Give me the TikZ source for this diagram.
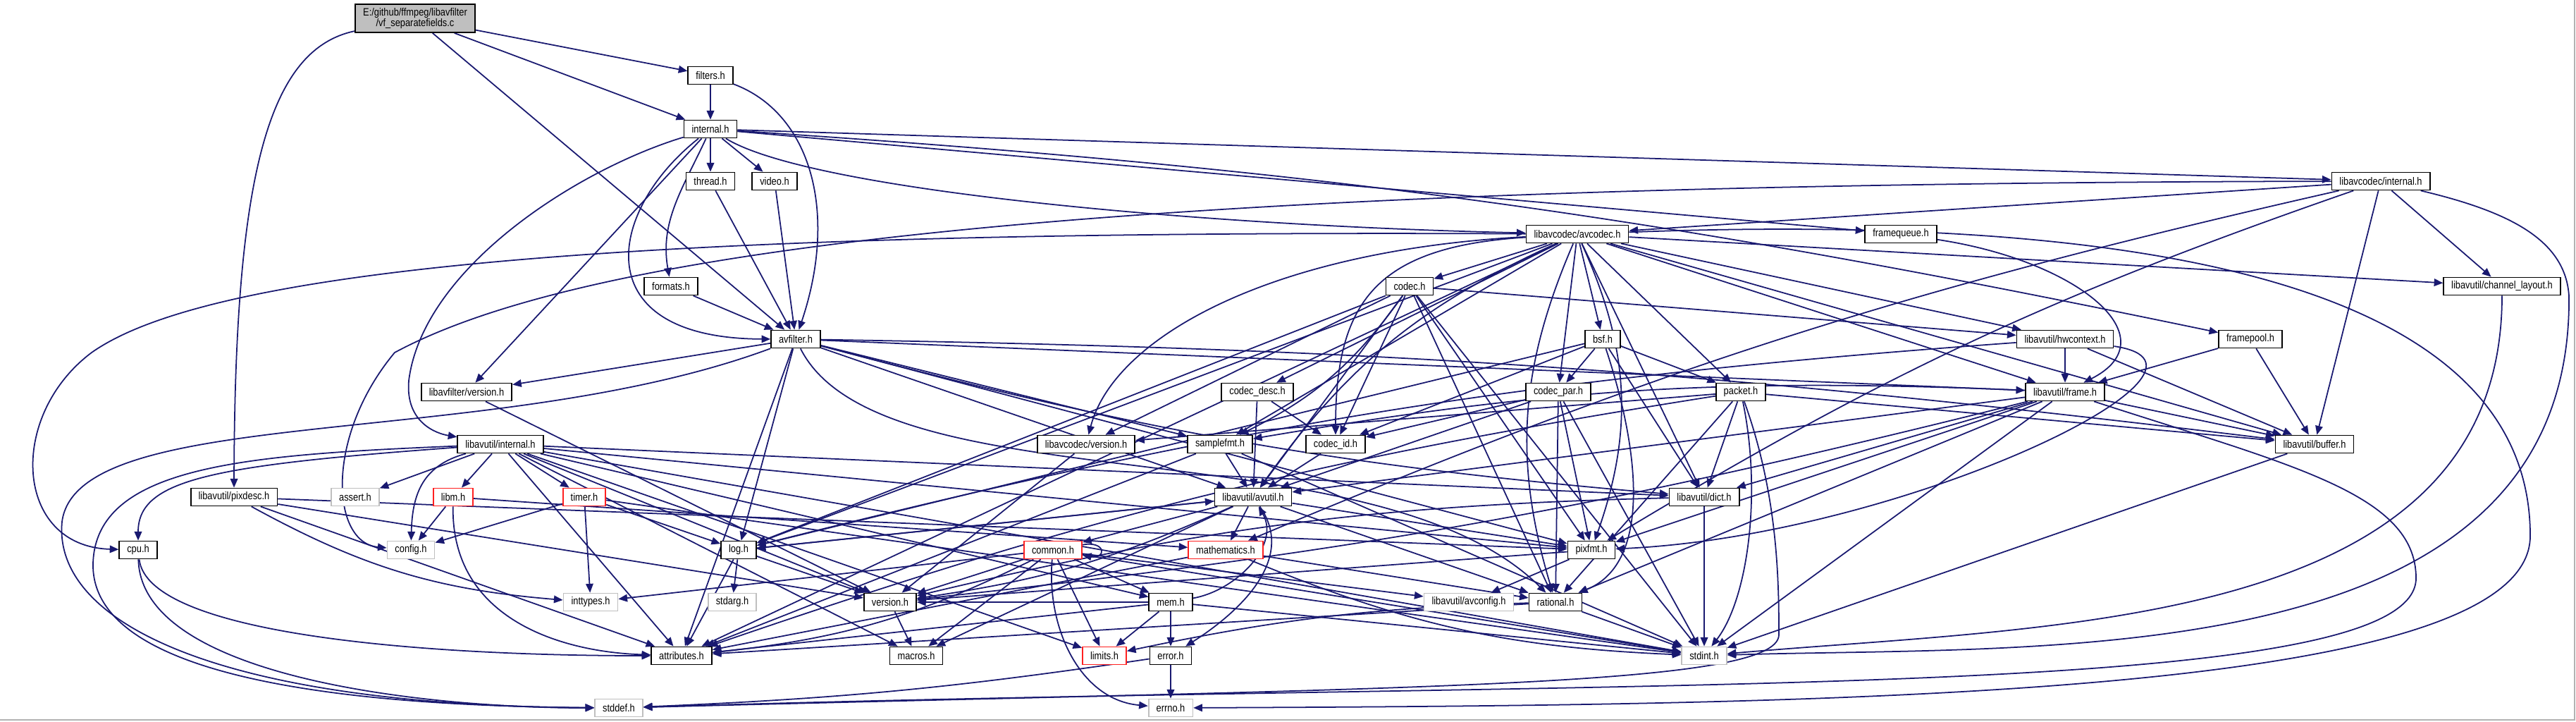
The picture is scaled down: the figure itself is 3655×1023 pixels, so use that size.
\documentclass[tikz,border=0pt]{standalone}
\usepackage{fontspec}
\setmainfont{Liberation Sans}[FakeStretch=0.85]
\usetikzlibrary{arrows.meta}
\definecolor{edgeblue}{HTML}{191970}
\definecolor{sysgray}{HTML}{BFBFBF}
\definecolor{truncred}{HTML}{FF2020}
\pgfdeclarelayer{paper}
\pgfdeclarelayer{edges}
\pgfsetlayers{paper,edges,main}
\begin{document}
\begin{tikzpicture}[
		x=0.01cm, y=-0.01cm,
		hd/.style = {rectangle, draw=black, fill=white, line width=0.5pt, inner xsep=0.11cm, inner ysep=0pt, minimum height=0.25cm, font={\fontsize{4.3}{4.4}\selectfont}},
		tr/.style = {hd, draw=truncred},
		sy/.style = {hd, draw=sysgray},
		fl/.style = {hd, fill=sysgray, minimum height=0.4cm, align=center},
		ed/.style = {-{Triangle[length=3.6pt, width=3pt]}, draw=edgeblue, line width=0.5pt}
		]
		\useasboundingbox (0,0) rectangle (3655,1023);

		%Nodes
		\node[fl]	(src)		at	(589, 26)	{E:/github/ffmpeg/libavfilter\\/vf\_separatefields.c};
		\node[hd]	(filters)	at	(1008, 107)	{filters.h};
		\node[hd]	(internal)	at	(1008, 183)	{internal.h};
		\node[hd]	(thread)	at	(1008, 257)	{thread.h};
		\node[hd]	(video)		at	(1099, 257)	{video.h};
		\node[hd]	(lavcint)	at	(3378, 257)	{libavcodec/internal.h};
		\node[hd]	(avcodec)	at	(2238, 332)	{libavcodec/avcodec.h};
		\node[hd]	(framequeue) at	(2697, 332)	{framequeue.h};
		\node[hd]	(formats)	at	(952, 406)	{formats.h};
		\node[hd]	(codec)		at	(2000, 406)	{codec.h};
		\node[hd]	(chlayout)	at	(3550, 406)	{libavutil/channel\_layout.h};
		\node[hd]	(avfilter)	at	(1129, 481)	{avfilter.h};
		\node[hd]	(bsf)		at	(2274, 481)	{bsf.h};
		\node[hd]	(hwctx)		at	(2930, 481)	{libavutil/hwcontext.h};
		\node[hd]	(framepool)	at	(3193, 481)	{framepool.h};
		\node[hd]	(lavfiver)	at	(662, 556)	{libavfilter/version.h};
		\node[hd]	(codecdesc)	at	(1784, 556)	{codec\_desc.h};
		\node[hd]	(codecpar)	at	(2211, 556)	{codec\_par.h};
		\node[hd]	(packet)	at	(2470, 556)	{packet.h};
		\node[hd]	(frame)		at	(2930, 556)	{libavutil/frame.h};
		\node[hd]	(lavuint)	at	(710, 630)	{libavutil/internal.h};
		\node[hd]	(lavcver)	at	(1541, 630)	{libavcodec/version.h};
		\node[hd]	(samplefmt)	at	(1731, 630)	{samplefmt.h};
		\node[hd]	(codecid)	at	(1895, 630)	{codec\_id.h};
		\node[hd]	(buffer)	at	(3284, 630)	{libavutil/buffer.h};
		\node[hd]	(pixdesc)	at	(332, 705)	{libavutil/pixdesc.h};
		\node[sy]	(assert)	at	(504, 705)	{assert.h};
		\node[tr]	(libm)		at	(643, 705)	{libm.h};
		\node[tr]	(timer)		at	(829, 705)	{timer.h};
		\node[hd]	(avutil)	at	(1778, 705)	{libavutil/avutil.h};
		\node[hd]	(dict)		at	(2418, 705)	{libavutil/dict.h};
		\node[hd]	(cpu)		at	(196, 780)	{cpu.h};
		\node[sy]	(config)	at	(583, 780)	{config.h};
		\node[hd]	(log)		at	(1048, 780)	{log.h};
		\node[tr]	(common)	at	(1494, 780)	{common.h};
		\node[tr]	(mathematics) at (1739, 780)	{mathematics.h};
		\node[hd]	(pixfmt)	at	(2258, 780)	{pixfmt.h};
		\node[sy]	(inttypes)	at	(838, 854)	{inttypes.h};
		\node[sy]	(stdarg)	at	(1039, 854)	{stdarg.h};
		\node[hd]	(version)	at	(1263, 854)	{version.h};
		\node[hd]	(mem)		at	(1661, 854)	{mem.h};
		\node[sy]	(avconfig)	at	(2084, 854)	{libavutil/avconfig.h};
		\node[hd]	(rational)	at	(2207, 854)	{rational.h};
		\node[hd]	(attributes) at	(967, 930)	{attributes.h};
		\node[hd]	(macros)	at	(1300, 930)	{macros.h};
		\node[tr]	(limits)	at	(1567, 930)	{limits.h};
		\node[hd]	(error)		at	(1661, 930)	{error.h};
		\node[sy]	(stdint)	at	(2418, 930)	{stdint.h};
		\node[sy]	(stddef)	at	(878, 1004)	{stddef.h};
		\node[sy]	(errno)		at	(1661, 1004)	{errno.h};

		%Bends
		\coordinate (kvu)	at	(580, 540);
		\coordinate (kstd1)	at	(88, 740);
		\coordinate (kstd2)	at	(132, 800);
		\coordinate (kcpu)	at	(130, 500);
		\coordinate (kcfg)	at	(560, 500);
		\coordinate (kint)	at	(3645, 420);
		\coordinate (kerr)	at	(3590, 760);
		\coordinate (kfrm)	at	(3428, 820);
		\coordinate (kpkt)	at	(2524, 900);

		\begin{pgfonlayer}{paper}
		\fill[white] (0,0) rectangle (3655,1023);
		\draw[gray!60, line width=0.6pt] (3653,0) -- (3653,1021) -- (0,1021);
		\end{pgfonlayer}

		%Lines
		\begin{pgfonlayer}{edges}
		% vf_separatefields.c
		\foreach \hdr in {filters,internal,avfilter}	\draw[ed] (src) -- (\hdr);
		\draw[ed]	(src)	.. controls (380,70) and (333,250) ..	(pixdesc);
		% filters.h
		\draw[ed]	(filters)	--	(internal);
		\draw[ed]	(filters)	.. controls (1150,160) and (1190,300) ..	(avfilter);
		% internal.h
		\foreach \hdr in {thread,video,lavfiver,framequeue,lavcint}	\draw[ed] (internal) -- (\hdr);
		\draw[ed]	(internal)	to[out=-115, in=100]	(formats);
		\draw[ed]	(internal)	.. controls (860,300) and (830,480) ..	(avfilter);
		\draw[ed]	(internal)	.. controls (820,240) and (600,380) .. (kvu) .. controls (575,600) and (620,615) ..	(lavuint);
		\draw[ed]	(internal)	.. controls (1150,270) and (1700,320) ..	(avcodec);
		\draw[ed]	(internal)	to[bend left=4]	(framepool);
		% small libavfilter headers
		\foreach \hdr in {formats,thread,video}	\draw[ed] (\hdr) -- (avfilter);
		\draw[ed]	(framequeue)	.. controls (2950,370) and (3080,480) ..	(frame);
		\foreach \hdr in {buffer,frame}	\draw[ed] (framepool) -- (\hdr);
		\draw[ed]	(lavfiver)	--	(version);
		% avfilter.h
		\foreach \hdr in {attributes,avutil,frame,log,samplefmt,pixfmt,lavfiver}	\draw[ed] (avfilter) -- (\hdr);
		\draw[ed]	(avfilter)	to[bend left=3]	(buffer);
		\draw[ed]	(avfilter)	to[bend right=5]	(dict);
		\draw[ed]	(avfilter)	.. controls (1250,720) and (1950,600) ..	(rational);
		\draw[ed]	(avfilter)	.. controls (700,640) and (110,570) .. (kstd1) .. controls (75,880) and (300,1000) ..	(stddef);
		% libavcodec/internal.h
		\foreach \hdr in {buffer,chlayout,avcodec}	\draw[ed] (lavcint) -- (\hdr);
		\draw[ed]	(lavcint)	to[bend right=5]	(mathematics);
		\draw[ed]	(lavcint)	to[bend right=6]	(pixfmt);
		\draw[ed]	(lavcint)	.. controls (1500,260) and (820,360) .. (kcfg) .. controls (460,620) and (470,770) ..	(config);
		\draw[ed]	(lavcint)	.. controls (3560,300) and (3640,340) .. (kint) .. controls (3650,960) and (2900,915) ..	(stdint);
		% libavcodec/avcodec.h
		\foreach \hdr in {samplefmt,attributes,buffer,chlayout,dict,frame,hwctx,log,bsf,codec,codecdesc,codecpar,packet}	\draw[ed] (avcodec) -- (\hdr);
		\draw[ed]	(avcodec)	to[bend right=15]	(avutil);
		\draw[ed]	(avcodec)	to[bend left=22]	(pixfmt);
		\draw[ed]	(avcodec)	to[bend right=20]	(rational);
		\draw[ed]	(avcodec)	.. controls (1950,350) and (1895,430) ..	(codecid);
		\draw[ed]	(avcodec)	.. controls (1800,355) and (1580,480) ..	(lavcver);
		\draw[ed]	(avcodec)	.. controls (900,325) and (300,380) .. (kcpu) .. controls (10,590) and (20,775) ..	(cpu);
		\draw[ed]	(avcodec)	.. controls (3100,300) and (3590,420) .. (kerr) .. controls (3590,990) and (2600,1000) ..	(errno);
		% codec headers
		\foreach \hdr in {stdint,avutil,hwctx,log,pixfmt,rational,codecid,lavcver}	\draw[ed] (codec) -- (\hdr);
		\draw[ed]	(codec)	to[bend left=14]	(samplefmt);
		\foreach \hdr in {avutil,codecid}	\draw[ed] (codecdesc) -- (\hdr);
		\draw[ed]	(codecid)	--	(avutil);
		\foreach \hdr in {stdint,avutil,rational,pixfmt,codecid}	\draw[ed] (codecpar) -- (\hdr);
		\foreach \hdr in {dict,log,codecid,codecpar,packet}	\draw[ed] (bsf) -- (\hdr);
		\draw[ed]	(bsf)	.. controls (2330,650) and (2340,800) ..	(rational);
		\foreach \hdr in {buffer,dict,rational,lavcver}	\draw[ed] (packet) -- (\hdr);
		\draw[ed]	(packet)	to[bend right=5]	(attributes);
		\draw[ed]	(packet)	.. controls (2500,700) and (2480,850) ..	(stdint);
		\draw[ed]	(packet)	.. controls (2522,700) and (2524,820) .. (kpkt) .. controls (2524,975) and (2000,975) ..	(stddef);
		\draw[ed]	(lavcver)	--	(version);
		% libavutil
		\foreach \hdr in {buffer,frame}	\draw[ed] (hwctx) -- (\hdr);
		\draw[ed]	(hwctx)	to[bend right=5]	(log);
		\draw[ed]	(hwctx)	.. controls (3200,520) and (2700,760) ..	(pixfmt);
		\foreach \hdr in {stdint,avutil,buffer,dict,rational,pixfmt}	\draw[ed] (frame) -- (\hdr);
		\draw[ed]	(frame)	to[bend right=6]	(samplefmt);
		\draw[ed]	(frame)	to[bend left=4]	(version);
		\draw[ed]	(frame)	.. controls (3250,660) and (3428,700) .. (kfrm) .. controls (3428,1000) and (2300,960) ..	(stddef);
		\draw[ed]	(buffer)	--	(stdint);
		\draw[ed]	(chlayout)	to[out=-90, in=5]	(stdint);
		\draw[ed]	(dict)	--	(stdint);
		\draw[ed]	(dict)	to[bend right=6]	(version);
		\foreach \hdr in {stdint,avutil,attributes}	\draw[ed] (samplefmt) -- (\hdr);
		\foreach \hdr in {common,rational,macros,mathematics,log,pixfmt}	\draw[ed] (avutil) -- (\hdr);
		\draw[ed]	(avutil)	to[bend left=8]	(version);
		\draw[ed]	(avutil)	.. controls (1845,800) and (1740,880) ..	(error);
		\foreach \hdr in {inttypes,limits,stdint,macros,version,avconfig,mem}	\draw[ed] (common) -- (\hdr);
		\draw[ed]	(common)	to[bend left=10]	(attributes);
		\draw[ed]	(common)	to[out=-95, in=175]	(errno);
		\draw[ed]	(common.10)	to[out=10, in=-10, looseness=6]	(common.-10);
		\foreach \hdr in {attributes,rational}	\draw[ed] (mathematics) -- (\hdr);
		\draw[ed]	(mathematics)	to[bend right=10]	(stdint);
		\foreach \hdr in {stdarg,avutil,attributes,version}	\draw[ed] (log) -- (\hdr);
		\draw[ed]	(version)	--	(macros);
		\foreach \hdr in {limits,stdint,attributes,error,version}	\draw[ed] (mem) -- (\hdr);
		\draw[ed]	(mem)	to[out=10, in=-60]	(avutil);
		\draw[ed]	(error)	--	(errno);
		\draw[ed]	(error)	to[bend left=3]	(stddef);
		\foreach \hdr in {stdint,attributes}	\draw[ed] (rational) -- (\hdr);
		\draw[ed]	(rational)	to[bend right=5]	(limits);
		\foreach \hdr in {avconfig,version}	\draw[ed] (pixfmt) -- (\hdr);
		\foreach \hdr in {config,mathematics}	\draw[ed] (libm) -- (\hdr);
		\draw[ed]	(libm)	.. controls (640,880) and (800,925) ..	(attributes);
		\foreach \hdr in {config,inttypes,log,stdint}	\draw[ed] (timer) -- (\hdr);
		\foreach \hdr in {limits,stdint,assert,attributes,timer,dict,macros,mem,pixfmt,version,libm}	\draw[ed] (lavuint) -- (\hdr);
		\draw[ed]	(lavuint)	.. controls (600,660) and (585,700) ..	(config);
		\draw[ed]	(lavuint)	.. controls (300,660) and (196,680) ..	(cpu);
		\draw[ed]	(lavuint)	.. controls (350,645) and (135,660) .. (kstd2) .. controls (130,940) and (400,1000) ..	(stddef);
		\foreach \hdr in {attributes,pixfmt,version}	\draw[ed] (pixdesc) -- (\hdr);
		\draw[ed]	(pixdesc)	to[bend right=12]	(inttypes);
		\draw[ed]	(cpu)	.. controls (210,900) and (600,930) ..	(attributes);
		\draw[ed]	(cpu)	.. controls (200,960) and (600,1004) ..	(stddef);
		\end{pgfonlayer}
	\end{tikzpicture}
\end{document}
